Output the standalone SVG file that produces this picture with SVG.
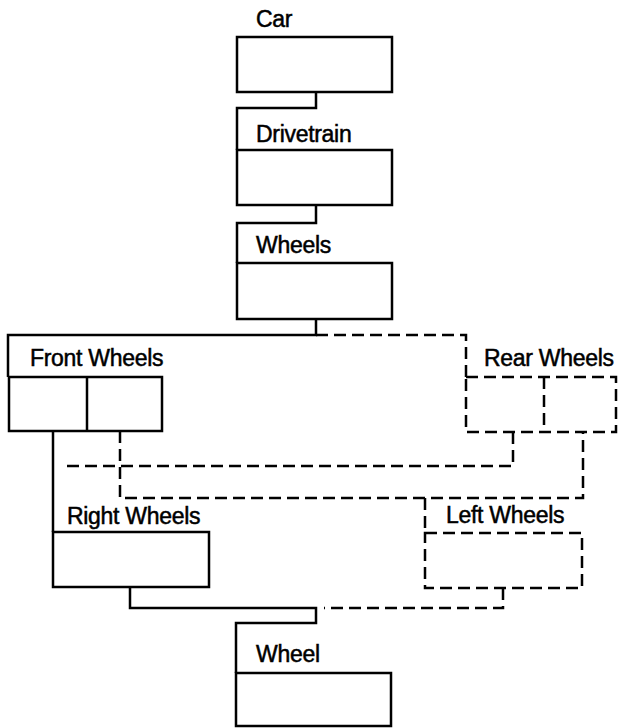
<svg xmlns="http://www.w3.org/2000/svg" width="618" height="728" viewBox="0 0 618 728">
<style>
.box{fill:none;stroke:#000;stroke-width:2.5}
.dash{fill:none;stroke:#000;stroke-width:2.5;stroke-dasharray:12 6}
.ln{fill:none;stroke:#000;stroke-width:2.5}
text{font-family:"Liberation Sans",Arial,sans-serif;font-size:23px;fill:#000;stroke:#000;stroke-width:0.5;letter-spacing:-0.3px}
</style>
<rect width="618" height="728" fill="#fff"/>
<g id="connectors">
<path class="ln" d="M316,92 V108 H237 V150"/>
<path class="ln" d="M316,205 V223 H237 V263"/>
<path class="ln" d="M316,319 V335 H8 V377"/>
<path class="dash" d="M316,335 H466 V377"/>
<path class="ln" d="M53,431 V532"/>
<path class="dash" d="M120,431 V498 H583 V432"/>
<path class="dash" d="M513,432 V466 H63"/>
<path class="dash" d="M425,498 V533"/>
<path class="ln" d="M130,587 V608 H316 V623 H236 V673"/>
<path class="dash" d="M503,588 V608 H324"/>
</g>
<g id="car">
<text x="256" y="27">Car</text>
<rect class="box" x="237" y="37" width="155" height="55"/>
</g>
<g id="drivetrain">
<text x="256" y="142">Drivetrain</text>
<rect class="box" x="237" y="150" width="155" height="55"/>
</g>
<g id="wheels">
<text x="256" y="253">Wheels</text>
<rect class="box" x="237" y="263" width="155" height="56"/>
</g>
<g id="front-wheels">
<text x="30" y="366">Front Wheels</text>
<rect class="box" x="9" y="377" width="153" height="54"/>
<line class="ln" x1="87" y1="377" x2="87" y2="431"/>
</g>
<g id="rear-wheels">
<text x="484" y="366">Rear Wheels</text>
<rect class="dash" x="466" y="377" width="150" height="55"/>
<line class="dash" x1="544" y1="377" x2="544" y2="432"/>
</g>
<g id="right-wheels">
<text x="67" y="524">Right Wheels</text>
<rect class="box" x="53" y="532" width="156" height="55"/>
</g>
<g id="left-wheels">
<text x="446" y="523">Left Wheels</text>
<rect class="dash" x="425" y="533" width="157" height="55"/>
</g>
<g id="wheel">
<text x="256" y="662">Wheel</text>
<rect class="box" x="236" y="673" width="155" height="53"/>
</g>
</svg>
